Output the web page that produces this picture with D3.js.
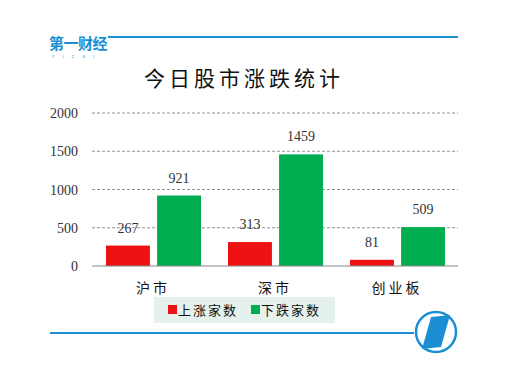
<!DOCTYPE html>
<meta charset="utf-8">
<script src="https://d3js.org/d3.v7.min.js"></script>
<style>
body { margin: 0; background: #fff; }
</style>
<div id="chart"></div>
<script>

// data
var markets = ["沪市", "深市", "创业板"];
var series = ["上涨家数", "下跌家数"];
var upCounts = [267, 313, 81];
var downCounts = [921, 1459, 509];
var yTicks = [0, 500, 1000, 1500, 2000];
var colors = ["#ee1111", "#00ad50"];

var W = 516, H = 371;
var margin = {top: 113, left: 92, right: 58, bottom: 105};
var width = W - margin.left - margin.right,
    height = H - margin.top - margin.bottom;

var svg = d3.select("#chart").append("svg")
    .attr("width", W).attr("height", H);

// header logo + rule
var blue = "#1b8fd4";
svg.append("line").attr("x1", 108).attr("x2", 458).attr("y1", 37).attr("y2", 37)
  .attr("stroke", blue).attr("stroke-width", 2);
svg.append("text").attr("x", 49).attr("y", 49)
  .style("font", "bold 15px 'Noto Sans CJK SC'").attr("fill", blue)
  .attr("letter-spacing", -0.5).text("第一财经");
svg.append("text").attr("x", 52).attr("y", 58)
  .style("font", "4px 'DejaVu Sans'").attr("fill", blue)
  .attr("letter-spacing", 8).text("YICAI");

// title
svg.append("text").attr("x", 244).attr("y", 86).attr("text-anchor", "middle")
  .style("font", "21px 'Noto Sans CJK SC'").attr("font-weight", 400)
  .attr("letter-spacing", 4).attr("fill", "#111")
  .text("今日股市涨跌统计");

var g = svg.append("g").attr("transform", "translate(" + margin.left + "," + margin.top + ")");

var x0 = d3.scaleBand().domain(markets).range([0, width]).paddingInner(0).paddingOuter(0);
var x1 = d3.scaleBand().domain(series).range([14, x0.bandwidth() - 13]).paddingInner(0.14);
var y = d3.scaleLinear().domain([0, 2000]).range([height, 0]);

// grid
g.selectAll(".grid").data(yTicks.slice(1)).enter().append("line")
  .attr("x1", 0).attr("x2", width)
  .attr("y1", function(d) { return y(d); }).attr("y2", function(d) { return y(d); })
  .attr("stroke", "#777").attr("stroke-dasharray", "3,2").attr("stroke-width", 0.8);

// y axis labels
g.selectAll(".ylab").data(yTicks).enter().append("text")
  .attr("x", -14).attr("y", function(d) { return y(d) + 5; })
  .attr("text-anchor", "end")
  .style("font", "14px 'Liberation Serif'").attr("fill", "#333")
  .text(function(d) { return d; });

// bars
var rows = markets.map(function(m, i) { return [upCounts[i], downCounts[i]]; });
var groups = g.selectAll(".grp").data(rows).enter().append("g")
  .attr("transform", function(d, i) { return "translate(" + x0(markets[i]) + ",0)"; });

groups.selectAll("rect").data(function(d) { return d; }).enter().append("rect")
  .attr("x", function(d, j) { return x1(series[j]); })
  .attr("width", x1.bandwidth())
  .attr("y", function(d) { return y(d); })
  .attr("height", function(d) { return height - y(d); })
  .attr("fill", function(d, j) { return colors[j]; });

groups.selectAll(".val").data(function(d) { return d; }).enter().append("text")
  .attr("x", function(d, j) { return x1(series[j]) + x1.bandwidth() / 2; })
  .attr("y", function(d) { return y(d) - 13; })
  .attr("text-anchor", "middle")
  .style("font", "14px 'Liberation Serif'").attr("fill", "#333")
  .text(function(d) { return d; });

// baseline
g.append("line").attr("x1", 0).attr("x2", width).attr("y1", height).attr("y2", height)
  .attr("stroke", "#888").attr("stroke-width", 1);

// x labels
g.selectAll(".xlab").data(markets).enter().append("text")
  .attr("x", function(d) { return x0(d) + x0.bandwidth() / 2; })
  .attr("y", height + 27)
  .attr("text-anchor", "middle")
  .style("font", "14px 'Noto Sans CJK SC'").attr("letter-spacing", 3).attr("fill", "#111")
  .text(function(d) { return d; });

// legend
var lg = svg.append("g");
lg.append("rect").attr("x", 154).attr("y", 297).attr("width", 181).attr("height", 26)
  .attr("fill", "#e5f1ec");
var lx = [168, 251];
series.forEach(function(s, i) {
  lg.append("rect").attr("x", lx[i]).attr("y", 305).attr("width", 9).attr("height", 9)
    .attr("fill", colors[i]);
  lg.append("text").attr("x", lx[i] + 10).attr("y", 315)
    .style("font", "13px 'Noto Sans CJK SC'").attr("letter-spacing", 2).attr("fill", "#111")
    .text(s);
});

// footer rule + badge
svg.append("line").attr("x1", 50).attr("x2", 414).attr("y1", 333).attr("y2", 333)
  .attr("stroke", blue).attr("stroke-width", 2);
svg.append("circle").attr("cx", 436).attr("cy", 332).attr("r", 20)
  .attr("fill", "none").attr("stroke", blue).attr("stroke-width", 2.5);
svg.append("path").attr("d", "M431,317 L450,315 L441,347 L422,349 Z").attr("fill", blue);

</script>
